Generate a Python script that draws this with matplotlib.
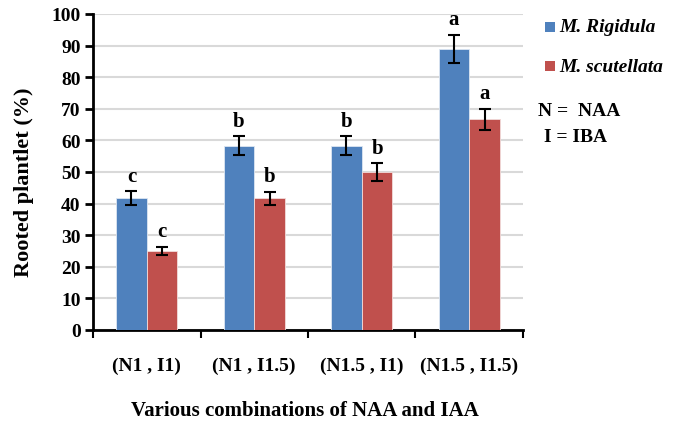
import matplotlib
matplotlib.use("Agg")
import matplotlib.pyplot as plt
from matplotlib.patches import Rectangle
import numpy as np

categories = ["(N1 , I1)", "(N1 , I1.5)", "(N1.5 , I1)", "(N1.5 , I1.5)"]
rigidula = [41.7, 58.3, 58.3, 88.9]
rigidula_err = [2.2, 3.0, 3.0, 4.5]
rigidula_letters = ["c", "b", "b", "a"]
scutellata = [25.0, 41.7, 50.0, 66.7]
scutellata_err = [1.4, 2.1, 2.8, 3.3]
scutellata_letters = ["c", "b", "b", "a"]
yticks = list(range(0, 101, 10))

plt.rcParams['font.family'] = ['Liberation Serif', 'DejaVu Serif']
fig = plt.figure(figsize=(6.73, 4.31), dpi=100)
ax = fig.add_axes([93/673, 1-331/431, (523-93)/673, (331-15)/431])

blue = "#4F81BD"
red = "#C0504D"
x = np.arange(len(categories))
w = 0.285
ax.bar(x - w/2, rigidula, w, color=blue, edgecolor="#DCE6F2", linewidth=0.6, zorder=3)
ax.bar(x + w/2, scutellata, w, color=red, edgecolor="#F2DCDB", linewidth=0.6, zorder=3)
ax.errorbar(x - w/2, rigidula, yerr=rigidula_err, fmt="none", ecolor="black",
            elinewidth=1.5, capsize=4, capthick=1.5, zorder=4)
ax.errorbar(x + w/2, scutellata, yerr=scutellata_err, fmt="none", ecolor="black",
            elinewidth=1.5, capsize=4, capthick=1.5, zorder=4)

for xi, v, e, l in zip(x - w/2, rigidula, rigidula_err, rigidula_letters):
    ax.annotate(l, (xi, v + e), xytext=(0, 4), textcoords="offset points",
                ha="center", va="bottom", fontsize=15, fontweight="bold")
for xi, v, e, l in zip(x + w/2, scutellata, scutellata_err, scutellata_letters):
    ax.annotate(l, (xi, v + e), xytext=(0, 4), textcoords="offset points",
                ha="center", va="bottom", fontsize=15, fontweight="bold")

ax.set_xlim(-0.5, len(categories) - 0.5)
ax.set_ylim(0, 100)
ax.set_yticks(yticks)
ax.set_yticklabels([str(t) for t in yticks], fontsize=14, fontweight="bold")
ax.set_xticks(x)
ax.set_xticklabels(categories, fontsize=14, fontweight="bold")
ax.set_xticks(np.arange(-0.5, len(categories), 1.0), minor=True)
ax.tick_params(axis="x", which="major", length=0, pad=19)
ax.tick_params(axis="x", which="minor", length=6, width=1.5, direction="out")
ax.tick_params(axis="y", length=6, width=2, direction="out", pad=3)

ax.grid(axis="y", color="#D9D9D9", linewidth=1.5, zorder=0)
ax.set_axisbelow(True)
for s in ["top", "right"]:
    ax.spines[s].set_visible(False)
ax.spines["left"].set_linewidth(2)
ax.spines["bottom"].set_linewidth(2)

fig.text(24/673, 1-182/431, "Rooted plantlet (%)", rotation=90, ha="center", va="center",
         fontsize=16, fontweight="bold")
fig.text(305/673, 1-411/431, "Various combinations of NAA and IAA", ha="center", va="center",
         fontsize=15, fontweight="bold")

# legend
fig.patches.append(Rectangle((545/673, 1-33/431), 10/673, 10/431, transform=fig.transFigure,
                             facecolor=blue, edgecolor="none"))
fig.patches.append(Rectangle((545/673, 1-72/431), 10/673, 10/431, transform=fig.transFigure,
                             facecolor=red, edgecolor="none"))
fig.text(559/673, 1-28/431, "M. Rigidula", ha="left", va="center", fontsize=14,
         fontweight="bold", style="italic")
fig.text(559/673, 1-67/431, "M. scutellata", ha="left", va="center", fontsize=14,
         fontweight="bold", style="italic")
fig.text(538/673, 1-111/431, "N =  NAA", ha="left", va="center", fontsize=14, fontweight="bold")
fig.text(544/673, 1-138/431, "I = IBA", ha="left", va="center", fontsize=14, fontweight="bold")

fig.savefig("out.png", dpi=100)
